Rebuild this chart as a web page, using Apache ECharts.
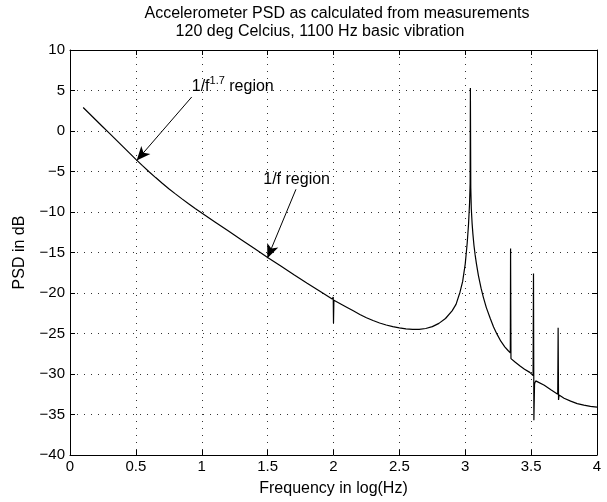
<!DOCTYPE html>
<html>
<head>
<meta charset="utf-8">
<script src="https://cdn.jsdelivr.net/npm/echarts@6/dist/echarts.min.js"></script>
<style>
html,body{margin:0;padding:0;background:#fff;}
#chart{width:607px;height:502px;}
</style>
</head>
<body>
<div id="chart"></div>
<script>
// ---- data ----
var titleLines = ['Accelerometer PSD as calculated from measurements', '120 deg Celcius, 1100 Hz basic vibration'];
var xAxisName = 'Frequency in log(Hz)';
var yAxisName = 'PSD in dB';
var xTicks = [0, 0.5, 1, 1.5, 2, 2.5, 3, 3.5, 4];
var yTicks = [-40, -35, -30, -25, -20, -15, -10, -5, 0, 5, 10];

var freqLog = [
  0.1, 0.15, 0.2, 0.25, 0.3, 0.35, 0.4, 0.45, 0.5, 0.55, 0.6, 0.65, 0.7, 0.75, 0.8, 0.85, 0.9, 0.95, 1.0,
  1.1, 1.2, 1.3, 1.4, 1.5, 1.6, 1.7, 1.8, 1.9, 1.99,
  1.998, 2.0, 2.003,
  2.1, 2.15, 2.2, 2.25, 2.3, 2.35, 2.4, 2.45, 2.5, 2.55, 2.6, 2.65, 2.7, 2.75, 2.8, 2.85, 2.9, 2.93, 2.96, 2.98,
  3.0, 3.015, 3.025, 3.033, 3.037, 3.039, 3.042, 3.046, 3.052, 3.058, 3.066, 3.075, 3.085, 3.1, 3.12, 3.137,
  3.16, 3.19, 3.215, 3.24, 3.27, 3.3, 3.325, 3.342,
  3.344, 3.347, 3.38, 3.416, 3.45, 3.49, 3.515,
  3.518, 3.521, 3.526, 3.535, 3.55, 3.6, 3.65, 3.702,
  3.705, 3.708, 3.712, 3.75, 3.8, 3.85, 3.9, 3.95, 4.0];
var psdDb = [
  2.9, 2.1, 1.3, 0.5, -0.3, -1.1, -1.9, -2.7, -3.5, -4.28, -5.03, -5.75, -6.45, -7.12, -7.76, -8.38, -8.98, -9.56, -10.12,
  -11.22, -12.32, -13.42, -14.52, -15.62, -16.68, -17.75, -18.8, -19.82, -20.75,
  -20.5, -23.7, -20.9,
  -21.75, -22.2, -22.65, -23.05, -23.4, -23.7, -23.95, -24.15, -24.3, -24.42, -24.48, -24.48, -24.38, -24.15, -23.75, -23.15, -22.2, -21.4, -19.9, -18.6,
  -16.4, -13.8, -11.5, -8.8, -6.5, 5.3, -7.0, -9.6, -11.4, -12.7, -14.1, -15.3, -16.4, -17.85, -19.4, -20.5,
  -21.8, -23.15, -24.2, -25.05, -25.95, -26.65, -27.1, -27.4,
  -14.5, -28.1, -28.55, -29.0, -29.4, -29.8, -30.2,
  -17.6, -35.7, -31.2, -30.85, -30.9, -31.4, -31.95, -32.5,
  -24.3, -33.2, -32.6, -33.0, -33.35, -33.65, -33.85, -34.0, -34.1];

// annotations (data coordinates)
var annoText = ['1/f{sup|1.7} region', '1/f region'];
var annoTextPos = [[0.924, 5.5], [1.467, -5.95]];
var annoArrowFrom = [[0.924, 4.2], [1.715, -7.2]];
var annoArrowTo = [[0.506, -3.65], [1.498, -15.7]];

var chart = echarts.init(document.getElementById('chart'), null, {renderer: 'canvas'});
var FONT = 'Liberation Sans, Arial, Helvetica, sans-serif';
var FS = 15;      // tick labels
var FSL = 16;     // title / axis names / annotations

var seriesData = freqLog.map(function (x, i) { return [x, psdDb[i]]; });

var markLineData = annoArrowFrom.map(function (p, i) {
  return [{coord: p, symbol: 'none'}, {coord: annoArrowTo[i], symbol: 'arrow'}];
});
var markPointData = annoTextPos.map(function (p, i) {
  return {coord: p, label: {formatter: annoText[i]}};
});

function gridLine() {
  return {show: true, lineStyle: {color: '#333', type: [1, 6], width: 1}};
}

chart.setOption({
  animation: false,
  backgroundColor: '#fff',
  title: [
    {text: titleLines[0], left: 332, top: 1, textAlign: 'center',
     textStyle: {fontFamily: FONT, fontSize: FSL, fontWeight: 'normal', color: '#000'}},
    {text: titleLines[1], left: 315, top: 19, textAlign: 'center',
     textStyle: {fontFamily: FONT, fontSize: FSL, fontWeight: 'normal', color: '#000'}}
  ],
  grid: {left: 70, right: 10, top: 50, bottom: 44, containLabel: false},
  xAxis: [
    {type: 'value', min: xTicks[0], max: xTicks[xTicks.length - 1], interval: 0.5, position: 'bottom',
     name: xAxisName, nameLocation: 'middle', nameGap: 26,
     nameTextStyle: {fontFamily: FONT, fontSize: FSL, color: '#000'},
     axisLine: {show: true, onZero: false, lineStyle: {color: '#000', width: 1}},
     axisTick: {show: true, inside: true, length: 5, lineStyle: {color: '#000'}},
     axisLabel: {fontFamily: FONT, fontSize: FS, color: '#000', margin: 4,
       formatter: function (v) { return String(v); }},
     splitLine: gridLine()},
    {type: 'value', min: xTicks[0], max: xTicks[xTicks.length - 1], interval: 0.5, position: 'top',
     axisLine: {show: true, onZero: false, lineStyle: {color: '#000', width: 1}},
     axisTick: {show: true, inside: true, length: 5, lineStyle: {color: '#000'}},
     axisLabel: {show: false}, splitLine: {show: false}}
  ],
  yAxis: [
    {type: 'value', min: yTicks[0], max: yTicks[yTicks.length - 1], interval: 5, position: 'left',
     name: yAxisName, nameLocation: 'middle', nameGap: 42, nameRotate: 90,
     nameTextStyle: {fontFamily: FONT, fontSize: FSL, color: '#000'},
     axisLine: {show: true, onZero: false, lineStyle: {color: '#000', width: 1}},
     axisTick: {show: true, inside: true, length: 5, lineStyle: {color: '#000'}},
     axisLabel: {fontFamily: FONT, fontSize: FS, color: '#000', margin: 5,
       formatter: function (v) { return v < 0 ? '\u2212' + Math.abs(v) : String(v); }},
     splitLine: gridLine()},
    {type: 'value', min: yTicks[0], max: yTicks[yTicks.length - 1], interval: 5, position: 'right',
     axisLine: {show: true, onZero: false, lineStyle: {color: '#000', width: 1}},
     axisTick: {show: true, inside: true, length: 5, lineStyle: {color: '#000'}},
     axisLabel: {show: false}, splitLine: {show: false}}
  ],
  series: [{
    type: 'line',
    xAxisIndex: 0, yAxisIndex: 0,
    data: seriesData,
    showSymbol: false,
    symbol: 'none',
    z: 5,
    lineStyle: {color: '#000', width: 1.2},
    markLine: {
      silent: true,
      symbolSize: [9, 14],
      lineStyle: {color: '#000', width: 1, type: 'solid'},
      label: {show: false},
      data: markLineData
    },
    markPoint: {
      silent: true,
      symbol: 'circle',
      symbolSize: 0,
      label: {
        show: true, position: 'right', distance: 0,
        fontFamily: FONT, fontSize: FSL, color: '#000',
        rich: {sup: {fontFamily: FONT, fontSize: 11, color: '#000', verticalAlign: 'bottom', padding: [0, 0, 10, 0]}}
      },
      data: markPointData
    }
  }]
});
</script>
</body>
</html>
